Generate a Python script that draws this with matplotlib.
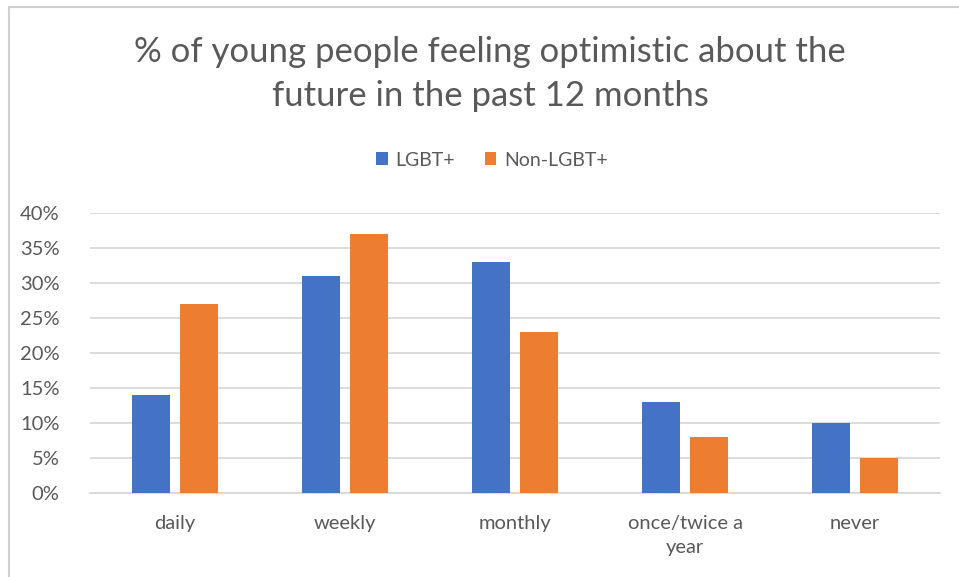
import numpy as np
import matplotlib
matplotlib.use("Agg")
from matplotlib import pyplot as plt
from matplotlib.patches import Rectangle
from matplotlib.ticker import FuncFormatter

categories = ["daily", "weekly", "monthly", "once/twice a\nyear", "never"]
lgbt = [14, 31, 33, 13, 10]
non_lgbt = [27, 37, 23, 8, 5]
series_names = ["LGBT+", "Non-LGBT+"]

blue = "#4472C4"
orange = "#ED7D31"
grey = "#595959"

plt.rcParams['font.family'] = ['Lato', 'DejaVu Sans']

fig = plt.figure(figsize=(9.59, 5.77), dpi=100)
ax = fig.add_axes([90/959, 1-493/577, 850/959, 280/577])

# outer chart border (Excel style, cut off at right/bottom)
fig.patches.append(Rectangle((9/959, -0.1), 1.2, 1 - 7/577 + 0.1,
                             transform=fig.transFigure, fill=False,
                             edgecolor="#D0D0D0", linewidth=1.5))

x = np.arange(len(categories))
w = 0.225
ax.bar(x - 0.141, lgbt, w, color=blue, label=series_names[0], zorder=3)
ax.bar(x + 0.141, non_lgbt, w, color=orange, label=series_names[1], zorder=3)

ax.set_xlim(-0.5, len(categories) - 0.5)
ax.set_ylim(0, 40)
ax.set_yticks(np.arange(0, 41, 5))
ax.yaxis.set_major_formatter(FuncFormatter(lambda v, p: f"{int(v)}%"))
ax.grid(axis="y", color="#D9D9D9", linewidth=1.3, zorder=0)
ax.set_xticks(x)
ax.set_xticklabels(categories, linespacing=1.45)
for s in ax.spines.values():
    s.set_visible(False)
ax.spines["bottom"].set_visible(True)
ax.spines["bottom"].set_color("#D9D9D9")
ax.spines["bottom"].set_linewidth(1.3)
ax.tick_params(axis="both", length=0, labelsize=14.5, colors=grey)
ax.tick_params(axis="x", pad=16)
ax.tick_params(axis="y", pad=22)

fig.text(490/959, 1 - 74/577, "% of young people feeling optimistic about the\nfuture in the past 12 months",
         ha="center", va="center", fontsize=25, color=grey, linespacing=1.45)

fig.legend(loc="center", bbox_to_anchor=(492/959, 1 - 160/577), ncol=2, frameon=False,
           fontsize=14, labelcolor=grey, handlelength=0.6, handleheight=0.6,
           handletextpad=0.4, columnspacing=1.5)

fig.savefig("out.png", dpi=100)
